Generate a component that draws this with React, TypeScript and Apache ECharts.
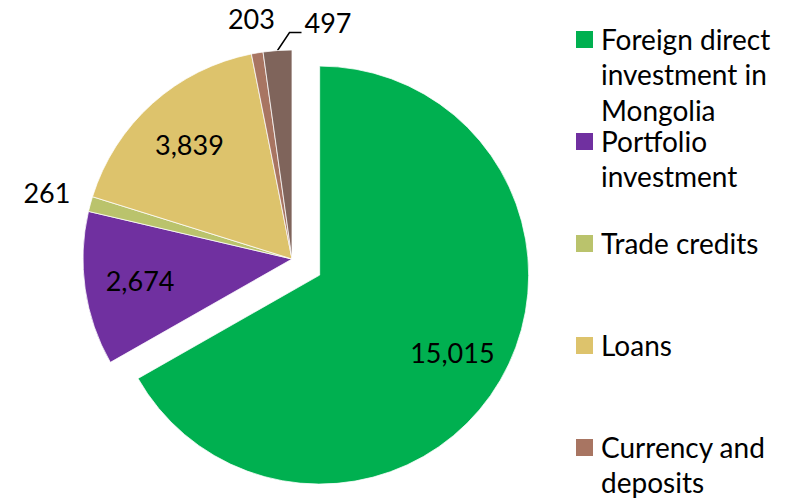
import React, { useEffect, useRef } from 'react';
import * as echarts from 'echarts';

const categories = [
  'Foreign direct investment in Mongolia',
  'Portfolio investment',
  'Trade credits',
  'Loans',
  'Currency and deposits',
  'Other investment',
];
const values = [15015, 2674, 261, 3839, 203, 497];
const legendLabels = [
  'Foreign direct\ninvestment in\nMongolia',
  'Portfolio\ninvestment',
  'Trade credits',
  'Loans',
  'Currency and\ndeposits',
  'Other\ninvestment',
];
const colors = ['#00B050', '#7030A0', '#BAC36C', '#DDC36C', '#A87562', '#7F645B'];

const innerLabelIdx = [0, 1, 3];
const outerLabelIdxA = [2];
const outerLabelIdxB = [4];
const leaderLabelIdx = [5];

const FONT = 'Lato, "Open Sans", sans-serif';
const fmt = (v: number) => v.toLocaleString('en-US');

export default function App() {
  const ref = useRef<HTMLDivElement>(null);
  useEffect(() => {
    const chart = echarts.init(ref.current!, null, { renderer: 'svg' });
    const center = [292, 259];
    const R = 209;
    const OFFSET = 32;
    const labelFont = { color: '#000', fontSize: 27, fontFamily: FONT };

    const overlay = (radius: number[], idx: number[]) => ({
      type: 'pie',
      center,
      radius,
      startAngle: 90,
      clockwise: true,
      silent: true,
      selectedMode: 'single',
      selectedOffset: OFFSET,
      avoidLabelOverlap: false,
      itemStyle: { color: 'rgba(0,0,0,0)', borderWidth: 0 },
      select: { itemStyle: { color: 'rgba(0,0,0,0)', borderWidth: 0 } },
      emphasis: { disabled: true },
      label: { position: 'inside', formatter: (p: any) => fmt(p.value), ...labelFont },
      labelLine: { show: false },
      data: categories.map((name, i) => ({
        name,
        value: values[i],
        selected: i === 0,
        label: { show: idx.includes(i) },
      })),
    });

    chart.setOption({
      animation: false,
      backgroundColor: '#fff',
      series: [
        {
          type: 'pie',
          center,
          radius: [0, R],
          startAngle: 90,
          clockwise: true,
          selectedMode: 'single',
          selectedOffset: OFFSET,
          avoidLabelOverlap: false,
          itemStyle: { borderColor: '#fff', borderWidth: 0.75 },
          select: { itemStyle: { borderColor: '#fff', borderWidth: 0.75 } },
          emphasis: { disabled: true },
          label: { show: false, position: 'outside', formatter: (p: any) => fmt(p.value), ...labelFont },
          labelLine: { show: false, length: 18, length2: 12, lineStyle: { color: '#000', width: 1.5 } },
          data: categories.map((name, i) => ({
            name,
            value: values[i],
            selected: i === 0,
            itemStyle: { color: colors[i] },
            label: { show: leaderLabelIdx.includes(i) },
            labelLine: { show: leaderLabelIdx.includes(i) },
          })),
          labelLayout: (p: any) => {
            if (!leaderLabelIdx.includes(p.dataIndex) || !p.labelLinePoints) return {};
            const p0 = p.labelLinePoints[0];
            const p1 = [p0[0] + 12, p0[1] - 18];
            const p2 = [p1[0] + 12, p1[1]];
            return {
              x: p2[0] + 3,
              y: p2[1] - 10,
              align: 'left',
              verticalAlign: 'middle',
              labelLinePoints: [p0, p1, p2],
            };
          },
        },
        overlay([92, R], innerLabelIdx),
        overlay([234, 268], outerLabelIdxA),
        overlay([222, 260], outerLabelIdxB),
      ],
      graphic: legendLabels.flatMap((t, i) => [
        {
          type: 'rect',
          shape: { x: 576, y: 31 + i * 102, width: 17, height: 17 },
          style: { fill: colors[i] },
        },
        {
          type: 'text',
          x: 601,
          y: 21 + i * 102,
          style: {
            text: t,
            fontSize: 28,
            fontFamily: FONT,
            lineHeight: 35.5,
            fill: '#000',
            verticalAlign: 'top',
          },
        },
      ]),
    });
    return () => chart.dispose();
  }, []);
  return (
    <div
      ref={ref}
      style={{ position: 'absolute', left: 0, top: 0, width: 799, height: 502, background: '#fff' }}
    />
  );
}
